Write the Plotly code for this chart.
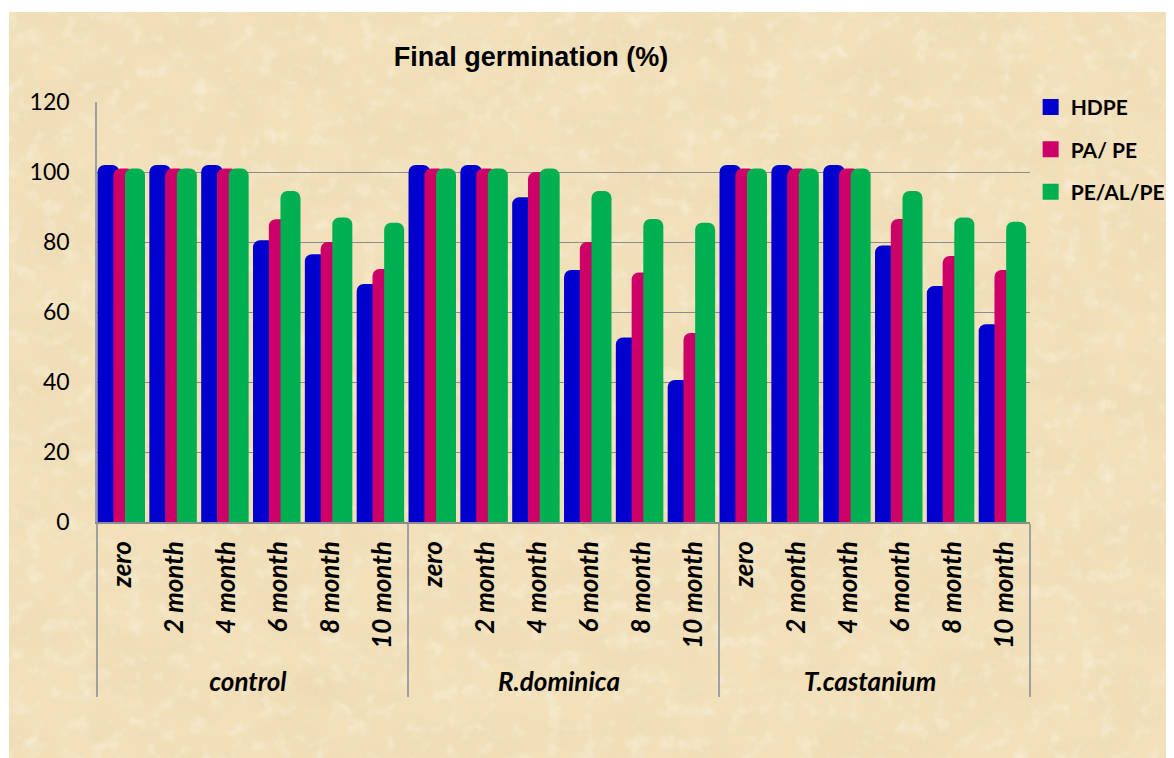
import base64
import plotly.graph_objects as go

# ---- data ----
groups = ["control", "R.dominica", "T.castanium"]
periods = ["zero", "2 month", "4 month", "6 month", "8 month", "10 month"]
series_names = ["HDPE", "PA/ PE", "PE/AL/PE"]

hdpe = [102, 102, 102, 80.5, 76.5, 68,
        102, 102, 92.8, 72, 52.7, 40.6,
        102, 102, 102, 79, 67.4, 56.5]
pa_pe = [101, 101, 101, 86.5, 80, 72.3,
         101, 101, 100, 80, 71.3, 54,
         101, 101, 101, 86.6, 76, 72]
pe_al_pe = [101, 101, 101, 94.6, 87, 85.5,
            101, 101, 101, 94.6, 86.6, 85.5,
            101, 101, 101, 94.6, 87, 85.8]

y_ticks = [0, 20, 40, 60, 80, 100, 120]

colors = ["#0000CC", "#CC0066", "#00B050"]

x_outer = [g for g in groups for _ in periods]
x_inner = [p for _ in groups for p in periods]

# ---- parchment texture (decorative background) ----
svg = """<svg xmlns='http://www.w3.org/2000/svg' width='1165' height='746'>
<filter id='n' x='0' y='0' width='100%' height='100%'>
<feTurbulence type='fractalNoise' baseFrequency='0.012 0.02' numOctaves='5' seed='7'/>
<feColorMatrix type='matrix' values='0 0 0 0 0.80  0 0 0 0 0.66  0 0 0 0 0.40  1.6 0 0 0 -0.72'/>
</filter>
<filter id='m' x='0' y='0' width='100%' height='100%'>
<feTurbulence type='fractalNoise' baseFrequency='0.06' numOctaves='3' seed='11'/>
<feColorMatrix type='matrix' values='0 0 0 0 1  0 0 0 0 0.97  0 0 0 0 0.88  1.8 0 0 0 -0.95'/>
</filter>
<rect width='100%' height='100%' fill='#f1e0ba'/>
<rect width='100%' height='100%' filter='url(#n)' opacity='0.55'/>
<rect width='100%' height='100%' filter='url(#m)' opacity='0.55'/>
</svg>"""
bg_src = "data:image/svg+xml;base64," + base64.b64encode(svg.encode()).decode()

fig = go.Figure()
offsets = [-0.49, -0.185, 0.04]
widths = [0.42, 0.40, 0.386]
for name, vals, col, off, w in zip(series_names, [hdpe, pa_pe, pe_al_pe], colors, offsets, widths):
    fig.add_trace(go.Bar(
        x=[x_outer, x_inner], y=vals, name=name,
        marker=dict(color=col, line=dict(width=0), cornerradius=7),
        offset=off, width=w, legendgroup=name, showlegend=False,
    ))
# legend entries (larger square keys)
for name, col in zip(series_names, colors):
    fig.add_trace(go.Scatter(
        x=[None], y=[None], mode="markers", name=name, legendgroup=name,
        marker=dict(symbol="square", size=16, color=col, line=dict(width=0)),
        hoverinfo="skip",
    ))

tick_font = dict(family="Lato", size=23, color="black")
lab_font = dict(family="Lato", size=26, color="black", weight="bold", style="italic")

fig.update_layout(
    width=1166, height=750,
    barmode="overlay",
    paper_bgcolor="white",
    plot_bgcolor="rgba(0,0,0,0)",
    margin=dict(l=89, r=144, t=94, b=236, autoexpand=False),
    title=dict(text="<b>Final germination (%)</b>", x=523 / 1166, xref="container", xanchor="center",
               y=1 - 49 / 750, yref="container", yanchor="middle",
               font=dict(family="Liberation Sans", size=27, color="black")),
    legend=dict(x=1.0007, xanchor="left", y=1.036, yanchor="top",
                font=dict(family="Lato", size=21, color="black", weight="bold"),
                traceorder="grouped", tracegroupgap=12, bgcolor="rgba(0,0,0,0)",
                itemwidth=30),
    xaxis=dict(type="multicategory", tickfont=lab_font, tickangle=-90,
               showline=True, linecolor="#8c8c8c", linewidth=1.5,
               showdividers=True, dividercolor="#a0a0a0", dividerwidth=1.5,
               ticks="", showgrid=False, ticklabelstandoff=7),
    yaxis=dict(range=[0, 120], tickvals=y_ticks, tickfont=tick_font,
               showgrid=True, gridcolor="#8c8c8c", gridwidth=1,
               showline=True, linecolor="#a0a0a0", linewidth=1.5,
               ticks="", ticklabelstandoff=21, zeroline=False),
    images=[dict(source=bg_src, xref="paper", yref="paper",
                 x=(9 - 97) / 933, y=1 + (102 - 12) / 420,
                 sizex=(1180 - 9) / 933, sizey=(765 - 12) / 420,
                 sizing="stretch", layer="below", xanchor="left", yanchor="top")],
)

fig.write_html("out.html")
